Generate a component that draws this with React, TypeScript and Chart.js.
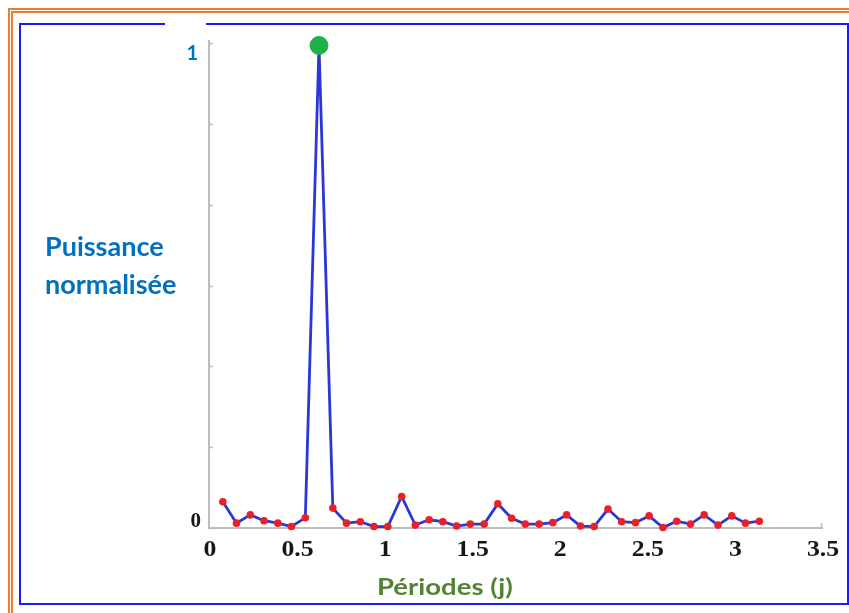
import { useEffect, useRef } from 'react';
import { Chart, registerables } from 'chart.js';

Chart.register(...registerables);

// Periods (days) of the sampled points
const periods = [
  0.079, 0.157, 0.236, 0.314, 0.393, 0.471, 0.55, 0.628, 0.707, 0.785,
  0.864, 0.942, 1.021, 1.1, 1.178, 1.257, 1.335, 1.414, 1.492, 1.571,
  1.649, 1.728, 1.806, 1.885, 1.963, 2.042, 2.121, 2.199, 2.278, 2.356,
  2.435, 2.513, 2.592, 2.67, 2.749, 2.827, 2.906, 2.985, 3.063, 3.142,
];
// Normalised power
const power = [
  0.054, 0.01, 0.027, 0.015, 0.01, 0.003, 0.021, 0.995, 0.041, 0.01,
  0.013, 0.003, 0.003, 0.065, 0.006, 0.017, 0.013, 0.004, 0.008, 0.008,
  0.05, 0.02, 0.008, 0.008, 0.011, 0.027, 0.004, 0.003, 0.039, 0.013,
  0.011, 0.025, 0.001, 0.014, 0.008, 0.027, 0.006, 0.025, 0.01, 0.014,
];
const xTicks = [0, 0.5, 1, 1.5, 2, 2.5, 3, 3.5];
const xTickLabels = ['0', '0.5', '1', '1.5', '2', '2.5', '3', '3.5'];
const yTicks = [0, 0.1667, 0.3333, 0.5, 0.6667, 0.8333, 1];
const yTickLabels = ['0', '1'];
const yAxisTitle = ['Puissance', 'normalisée'];
const xAxisTitle = 'Périodes (j)';

const annotate = {
  id: 'annotate',
  beforeDatasetsDraw(chart: any) {
    const { ctx, scales } = chart;
    const x = scales.x;
    const y = scales.y;
    ctx.save();
    ctx.strokeStyle = '#bdbdbd';
    ctx.lineWidth = 1.5;
    yTicks.forEach((v) => {
      const py = Math.round(y.getPixelForValue(v)) + 0.5;
      ctx.beginPath();
      ctx.moveTo(x.left, py);
      ctx.lineTo(x.left + 4, py);
      ctx.stroke();
    });
    // small end tick on x axis and top extension of y axis
    const pxEnd = Math.round(x.getPixelForValue(xTicks[xTicks.length - 1])) - 0.5;
    ctx.beginPath();
    ctx.moveTo(pxEnd, y.bottom);
    ctx.lineTo(pxEnd, y.bottom - 5);
    ctx.stroke();
    ctx.lineWidth = 2;
    ctx.beginPath();
    ctx.moveTo(x.left, y.top);
    ctx.lineTo(x.left, y.top - 3);
    ctx.stroke();
    ctx.restore();
  },
  afterDraw(chart: any) {
    const { ctx, scales } = chart;
    const x = scales.x;
    const y = scales.y;
    ctx.save();
    ctx.textBaseline = 'alphabetic';
    // x tick labels (slightly wide serif, as in the source)
    ctx.fillStyle = '#161616';
    ctx.font = 'bold 23px "Liberation Serif"';
    ctx.textAlign = 'center';
    xTicks.forEach((v, i) => {
      const px = x.getPixelForValue(v);
      ctx.save();
      ctx.translate(px + 1, y.bottom + 28);
      ctx.scale(1.12, 1);
      ctx.fillText(xTickLabels[i], 0, 0);
      ctx.restore();
    });
    ctx.textAlign = 'left';
    ctx.fillStyle = '#0070C0';
    ctx.font = 'bold 27px Lato';
    ctx.fillText(yAxisTitle[0], 45, 256);
    ctx.fillText(yAxisTitle[1], 45, 294);
    ctx.textAlign = 'right';
    ctx.font = 'bold 20px Lato';
    ctx.fillText(yTickLabels[1], 198, y.getPixelForValue(1) + 17);
    ctx.fillStyle = '#161616';
    ctx.font = 'bold 21px "Liberation Serif"';
    ctx.fillText(yTickLabels[0], 201, y.getPixelForValue(0) - 1);
    ctx.textAlign = 'left';
    ctx.fillStyle = '#538135';
    ctx.font = 'bold 23.5px Lato';
    ctx.save();
    ctx.translate(377, 595);
    ctx.scale(1.17, 1);
    ctx.fillText(xAxisTitle, 0, 0);
    ctx.restore();
    ctx.restore();
  },
};

export default function App() {
  const ref = useRef<HTMLCanvasElement | null>(null);

  useEffect(() => {
    if (!ref.current) return;
    const points = periods.map((p, i) => ({ x: p, y: power[i] }));
    const maxVal = Math.max(...power);
    const peak = points.filter((pt) => pt.y === maxVal);
    const chart = new Chart(ref.current, {
      type: 'scatter',
      data: {
        datasets: [
          {
            data: peak,
            showLine: false,
            pointRadius: 9,
            pointBackgroundColor: '#1fb04a',
            pointBorderColor: '#1fb04a',
            clip: false,
          } as any,
          {
            data: points,
            showLine: true,
            borderColor: '#2b36d6',
            borderWidth: 2.8,
            pointRadius: 3.8,
            pointBackgroundColor: '#e8202a',
            pointBorderColor: '#e8202a',
            pointBorderWidth: 0,
            clip: false,
          } as any,
        ],
      },
      options: {
        animation: false,
        responsive: false,
        devicePixelRatio: 1,
        events: [],
        layout: { padding: { left: 0, top: 43, right: 27, bottom: 0 } },
        plugins: { legend: { display: false }, tooltip: { enabled: false } },
        scales: {
          x: {
            type: 'linear',
            min: 0,
            max: 3.5,
            afterBuildTicks: (scale: any) => {
              scale.ticks = xTicks.map((v) => ({ value: v }));
            },
            afterFit: (scale: any) => {
              scale.height = 85;
            },
            grid: { display: false, drawTicks: false },
            border: { display: true, color: '#bdbdbd', width: 2 },
            ticks: { display: false },
          },
          y: {
            type: 'linear',
            min: 0,
            max: 1,
            afterBuildTicks: (scale: any) => {
              scale.ticks = yTicks.map((v) => ({ value: v }));
            },
            afterFit: (scale: any) => {
              scale.width = 209;
            },
            grid: { display: false, drawTicks: false },
            border: { display: true, color: '#bdbdbd', width: 2 },
            ticks: { display: false },
          },
        },
      } as any,
      plugins: [annotate],
    });
    return () => chart.destroy();
  }, []);

  return (
    <div style={{ position: 'absolute', left: 0, top: 0, width: 849, height: 613, overflow: 'hidden', background: '#fff' }}>
      <div style={{ position: 'absolute', left: 8, top: 8, width: 900, height: 700, borderTop: '2px solid #ED7D31', borderLeft: '2px solid #ED7D31' }} />
      <div style={{ position: 'absolute', left: 11, top: 11, width: 900, height: 700, borderTop: '2px solid #ED7D31', borderLeft: '2px solid #ED7D31' }} />
      <div style={{ position: 'absolute', left: 19, top: 23, width: 830, height: 582, boxSizing: 'border-box', border: '2px solid #1a1aff' }} />
      <div style={{ position: 'absolute', left: 165, top: 22, width: 41, height: 4, background: '#fff' }} />
      <canvas ref={ref} width={849} height={613} style={{ position: 'absolute', left: 0, top: 0, width: 849, height: 613 }} />
    </div>
  );
}
